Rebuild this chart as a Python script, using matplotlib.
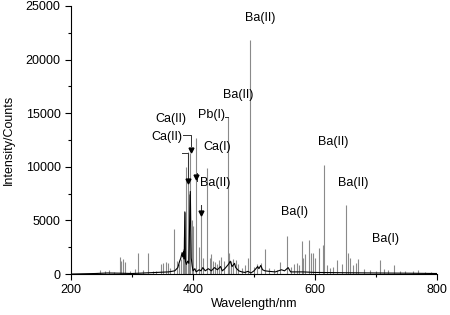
import numpy as np
import matplotlib
matplotlib.use('Agg')
import matplotlib.pyplot as plt
from matplotlib.ticker import MultipleLocator

plt.rcParams['font.family'] = ['Liberation Sans', 'DejaVu Sans']

# grey spectrum: emission lines (wavelength nm, counts)
grey_wl = [248, 255, 262, 270, 280.3, 282.5, 284.7, 288.5, 296, 304, 309.8, 318,
           325.7, 334, 340, 347, 351, 356, 359, 363, 369.4, 373, 377, 381, 383.5,
           385.5, 387.5, 388.5, 391.4, 393, 395.4, 398, 400, 405, 409, 412.6, 417,
           422.4, 427, 430, 432, 436, 440, 442, 446, 450, 456.5, 459, 463, 466,
           470, 474, 480, 485, 490.7, 492.6, 500, 505, 512, 518, 525, 532, 537,
           542.6, 554.6, 560, 566, 570, 574, 578, 580, 583.6, 589.7, 593.4, 597,
           600, 607, 612.6, 615.3, 619, 625, 630, 635.5, 645, 650.8, 654, 657,
           663, 667, 671, 680, 690, 700, 706.6, 713.6, 720, 729.5, 740, 747.5,
           760, 768.8, 780, 790]
grey_int = [400, 250, 350, 200, 1600, 1200, 1450, 1100, 300, 450, 2000, 350,
            1950, 300, 250, 900, 1000, 1100, 1000, 600, 4200, 1200, 900, 1400, 2300,
            3500, 5800, 10000, 11400, 7500, 11300, 5000, 4500, 12700, 2500, 6400, 1500,
            9900, 1500, 1900, 1200, 1100, 900, 1300, 1600, 1200, 14650, 1950, 1200, 1400,
            1300, 900, 600, 800, 1500, 21800, 700, 900, 1000, 2330, 600, 500, 400,
            1150, 3520, 700, 900, 1000, 800, 3100, 1500, 1900, 3220, 2000, 1950,
            1500, 2430, 2750, 10170, 800, 600, 700, 1300, 900, 6440, 2000, 1500,
            800, 1000, 1400, 500, 400, 300, 1300, 500, 400, 840, 250, 300,
            250, 350, 200, 150]

# black spectrum (wavelength nm, counts)
black_wl = [200, 240, 260, 280, 300, 320, 340, 360, 370, 375, 378, 380, 382, 383,
            384.5, 385.5, 386.5, 387.5, 389, 391, 393, 395.5, 397, 398.5, 400, 403,
            405, 410, 413, 416, 420, 425, 430, 435, 440, 445, 448, 452, 458, 461,
            464, 468, 470, 475, 480, 485, 490, 495, 500, 503, 506, 508, 511, 514,
            518, 525, 535, 545, 550, 556, 560, 580, 600, 650, 700, 750, 800]
black_int = [0, 50, 100, 80, 50, 100, 150, 200, 300, 600, 1200, 1500, 2000, 1600,
             2100, 1400, 5800, 1200, 900, 1200, 1000, 7700, 1500, 800, 300, 500,
             200, 400, 300, 600, 300, 500, 300, 600, 400, 700, 300, 500, 900, 1200,
             700, 1000, 600, 300, 200, 150, 250, 100, 300, 500, 700, 500, 800, 400,
             300, 250, 200, 400, 300, 600, 200, 200, 150, 120, 100, 80, 50]

# line labels (text, wavelength, counts)
labels = ['Ca(II)', 'Ca(II)', 'Pb(I)', 'Ca(I)', 'Ba(II)', 'Ba(II)', 'Ba(II)',
          'Ba(II)', 'Ba(II)', 'Ba(I)', 'Ba(I)']
label_wl = [363, 357, 429.5, 440, 436.5, 473.8, 509.8, 630, 663, 566.4, 716]
label_int = [14460, 12800, 14830, 11870, 8490, 16700, 23850, 12340, 8460, 5810, 3260]

fig = plt.figure(figsize=(4.5, 3.15), dpi=100)
ax = fig.add_axes([0.158, 0.130, 0.813, 0.851])

ax.vlines(grey_wl, 0, grey_int, color='#8a8a8a', lw=0.8)
ax.plot(black_wl, black_int, color='black', lw=0.8)

for t, x, y in zip(labels, label_wl, label_int):
    ax.text(x, y, t, ha='center', va='center', fontsize=9)

# brackets and arrows
lc = '#333333'
ax.plot([383.6, 396.7, 396.7], [12970, 12970, 11900], color=lc, lw=0.7)
ax.plot([381.5, 392.3, 392.3], [11300, 11300, 9000], color=lc, lw=0.7)
ax.plot([452.5, 456.5], [14650, 14650], color=lc, lw=0.7)
ax.plot([406.5, 406.5], [9400, 8700], color=lc, lw=0.7)
ax.plot([412.6, 412.6], [6400, 6000], color=lc, lw=0.7)
ax.plot([396.7, 392.3, 405, 412.6], [11550, 8650, 9050, 5700], 'v',
        color='black', ms=3.5)

ax.set_xlim(200, 800)
ax.set_ylim(0, 25000)
ax.xaxis.set_major_locator(MultipleLocator(200))
ax.xaxis.set_minor_locator(MultipleLocator(100))
ax.yaxis.set_major_locator(MultipleLocator(5000))
ax.yaxis.set_minor_locator(MultipleLocator(2500))
ax.tick_params(which='major', direction='out', length=4, width=0.8, labelsize=9)
ax.tick_params(which='minor', direction='out', length=2.5, width=0.8)
ax.spines['top'].set_visible(False)
ax.spines['right'].set_visible(False)
ax.set_xlabel('Wavelength/nm', fontsize=9, labelpad=1)
ax.set_ylabel('Intensity/Counts', fontsize=9, labelpad=0)
ax.yaxis.set_label_coords(-0.155, 0.5)

fig.savefig('out.png', dpi=100)
